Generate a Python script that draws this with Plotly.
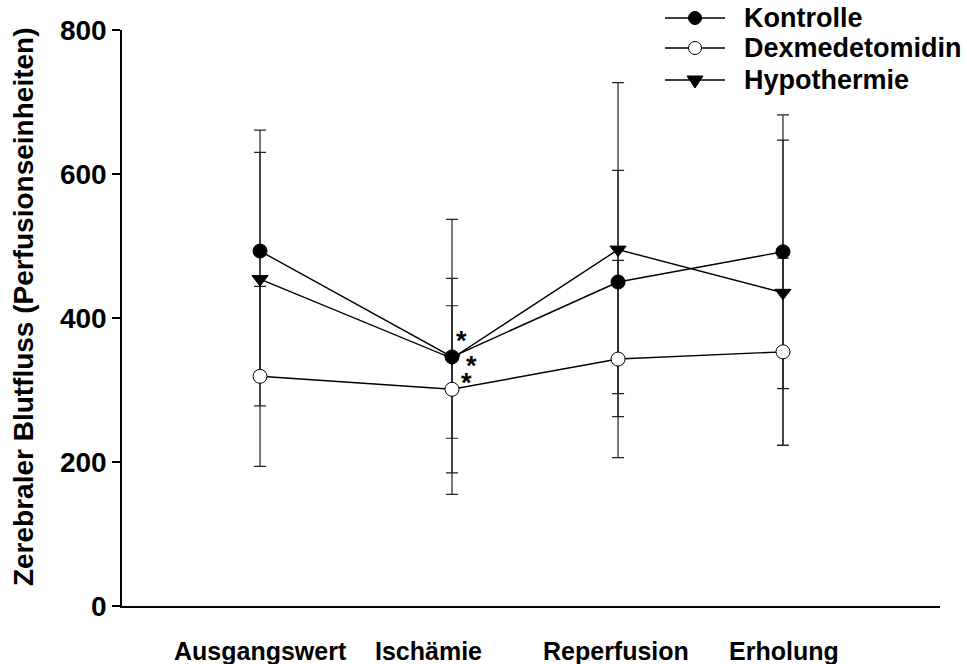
import plotly.graph_objects as go

# Measurement phases and their horizontal positions on the time axis
phases = ["Ausgangswert", "Ischämie", "Reperfusion", "Erholung"]
phase_x = [1.0, 2.0, 2.865, 3.724]
label_x = [1.0, 1.875, 2.854, 3.729]

# Cerebral blood flow (perfusion units), mean and SD per group
kontrolle = [493, 346, 450, 492]
kontrolle_sd = [168, 191, 155, 190]
dexmed = [319, 301, 343, 353]
dexmed_sd = [125, 116, 137, 130]
hypothermie = [454, 344, 495, 435]
hypothermie_sd = [176, 111, 232, 212]

# Significance marks next to the ischaemia values
star_x = [2.052, 2.099, 2.078]
star_y = [368, 333, 310]

FONT = "Liberation Sans"
L, R, T, B = 122, 27, 30, 58
W, H = 967, 664
PW, PH = W - L - R, H - T - B


def px_to_paper(px, py):
    return (px - L) / PW, (H - B - py) / PH


series = {
    "Kontrolle": (kontrolle, kontrolle_sd, "circle", "black"),
    "Dexmedetomidin": (dexmed, dexmed_sd, "circle", "white"),
    "Hypothermie": (hypothermie, hypothermie_sd, "triangle-down", "black"),
}
draw_order = ["Hypothermie", "Dexmedetomidin", "Kontrolle"]
legend_order = ["Kontrolle", "Dexmedetomidin", "Hypothermie"]

fig = go.Figure()

# Error bars first so that all markers sit on top of them
for name in draw_order:
    vals, sd, sym, fill = series[name]
    fig.add_trace(go.Scatter(
        x=phase_x, y=vals, mode="markers",
        marker=dict(size=1, color="rgba(0,0,0,0)"),
        error_y=dict(type="data", array=sd, visible=True,
                     color="#222222", thickness=1.2, width=6),
        showlegend=False, hoverinfo="skip",
    ))

for name in draw_order:
    vals, sd, sym, fill = series[name]
    fig.add_trace(go.Scatter(
        x=phase_x, y=vals, mode="lines+markers", name=name,
        line=dict(color="black", width=1.4),
        marker=dict(symbol=sym, size=14,
                    color=fill, line=dict(color="black", width=1)),
        showlegend=False,
    ))

annotations = []
shapes = []
for lx, txt in zip(label_x, phases):
    annotations.append(dict(
        x=lx, y=-0.078, xref="x", yref="paper", text=txt, showarrow=False,
        font=dict(family=FONT, size=25, color="black", weight="bold"),
        xanchor="center", yanchor="middle",
    ))
for sx, sy in zip(star_x, star_y):
    annotations.append(dict(
        x=sx, y=sy, xref="x", yref="y", text="*", showarrow=False,
        font=dict(family=FONT, size=27, color="black", weight="bold"),
        xanchor="center", yanchor="middle",
    ))
annotations.append(dict(
    x=-0.121, y=0.519, xref="paper", yref="paper",
    text="Zerebraler Blutfluss (Perfusionseinheiten)", textangle=-90,
    showarrow=False, xanchor="center", yanchor="middle",
    font=dict(family=FONT, size=28, color="black", weight="bold"),
))

# Key in the upper right corner: line sample, marker, label
key_rows_y = [18, 48, 80]
for name, ry in zip(legend_order, key_rows_y):
    vals, sd, sym, fill = series[name]
    x0, y0 = px_to_paper(665, ry)
    x1, _ = px_to_paper(725, ry)
    xm, _ = px_to_paper(695, ry)
    shapes.append(dict(type="line", xref="paper", yref="paper",
                       x0=x0, x1=x1, y0=y0, y1=y0,
                       line=dict(color="black", width=1.4)))
    if sym == "circle":
        shapes.append(dict(type="circle", xref="paper", yref="paper",
                           xsizemode="pixel", ysizemode="pixel",
                           xanchor=xm, yanchor=y0,
                           x0=-6.5, x1=6.5, y0=-6.5, y1=6.5,
                           fillcolor=fill, line=dict(color="black", width=1)))
    else:
        shapes.append(dict(type="path", xref="paper", yref="paper",
                           xsizemode="pixel", ysizemode="pixel",
                           xanchor=xm, yanchor=y0,
                           path="M-8,4 L8,4 L0,-8 Z",
                           fillcolor=fill, line=dict(color="black", width=1)))
    tx, _ = px_to_paper(742, ry)
    annotations.append(dict(
        x=tx, y=y0, xref="paper", yref="paper", text=name, showarrow=False,
        xanchor="left", yanchor="middle",
        font=dict(family=FONT, size=27, color="black", weight="bold"),
    ))

fig.update_layout(
    width=W, height=H,
    margin=dict(l=L, r=R, t=T, b=B, autoexpand=False),
    paper_bgcolor="white", plot_bgcolor="white",
    showlegend=False,
    annotations=annotations,
    shapes=shapes,
)

fig.update_xaxes(
    range=[0.281, 4.542], showline=True, linecolor="black", linewidth=2,
    showgrid=False, zeroline=False, ticks="", showticklabels=False,
)
fig.update_yaxes(
    range=[0, 800], tickvals=[0, 200, 400, 600, 800],
    showline=True, linecolor="black", linewidth=1.5,
    showgrid=False, zeroline=False, ticks="outside", ticklen=8,
    tickwidth=1.5, tickcolor="black",
    tickfont=dict(family=FONT, size=28, color="black", weight="bold"),
)

fig.write_html("out.html")
